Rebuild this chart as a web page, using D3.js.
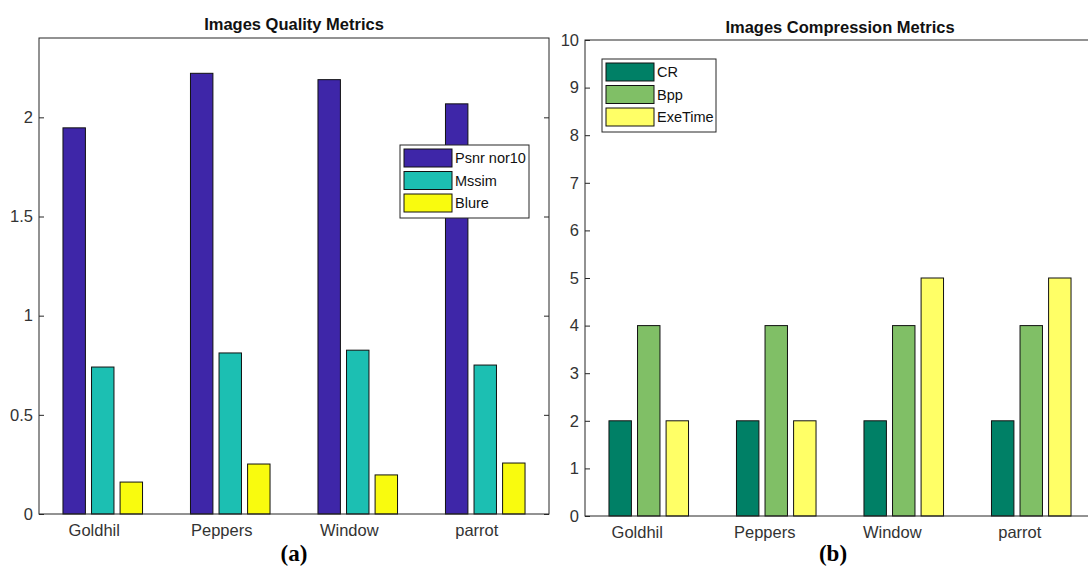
<!DOCTYPE html>
<html>
<head>
<meta charset="utf-8">
<script src="https://cdn.jsdelivr.net/npm/d3@7"></script>
<style>
  body { margin: 0; background: #fff; }
  text { font-family: "Liberation Sans", Arial, sans-serif; }
</style>
</head>
<body>
<div id="chart"></div>
<script>
// data
var images = ["Goldhil", "Peppers", "Window", "parrot"];

var qualitySeries = ["Psnr nor10", "Mssim", "Blure"];
var psnrNor10 = [1.947, 2.222, 2.19, 2.068];
var mssim = [0.741, 0.812, 0.826, 0.751];
var blure = [0.161, 0.252, 0.197, 0.257];
var qualityTicks = [0, 0.5, 1, 1.5, 2];

var compSeries = ["CR", "Bpp", "ExeTime"];
var cr = [2, 2, 2, 2];
var bpp = [4, 4, 4, 4];
var exeTime = [2, 2, 5, 5];
var compTicks = [0, 1, 2, 3, 4, 5, 6, 7, 8, 9, 10];

var svg = d3.select("#chart").append("svg")
    .attr("width", 1088)
    .attr("height", 566);

function panel(opt) {
  var g = svg.append("g");
  var x = d3.scaleLinear().domain([0.5, opt.cats.length + 0.5]).range([opt.left, opt.left + opt.width]);
  var y = d3.scaleLinear().domain(opt.ydomain).range([opt.bottom, opt.top]);
  var z = d3.scaleOrdinal().domain(opt.series).range(opt.colors);

  var step = 0.224, bw = 0.176;

  // bars
  opt.values.forEach(function(vals, j) {
    g.append("g")
        .attr("fill", z(opt.series[j]))
      .selectAll("rect")
      .data(vals)
      .enter().append("rect")
        .attr("x", function(d, i) { return x(i + 1 + (j - 1) * step - bw / 2); })
        .attr("width", x(bw) - x(0))
        .attr("y", function(d) { return y(d); })
        .attr("height", function(d) { return y(0) - y(d); })
        .attr("stroke", "#111")
        .attr("stroke-width", 1);
  });

  // axes box
  g.append("rect")
      .attr("x", opt.left).attr("y", opt.top)
      .attr("width", opt.width).attr("height", opt.bottom - opt.top)
      .attr("fill", "none").attr("stroke", "#262626").attr("stroke-width", 1);

  var yl = g.append("g")
      .attr("transform", "translate(" + opt.left + ",0)")
      .call(d3.axisLeft(y).tickValues(opt.ticks).tickSize(-5).tickPadding(6).tickFormat(d3.format("")));
  var yr = g.append("g")
      .attr("transform", "translate(" + (opt.left + opt.width) + ",0)")
      .call(d3.axisRight(y).tickValues(opt.ticks).tickSize(-5).tickFormat(""));
  [yl, yr].forEach(function(a) {
    a.select(".domain").remove();
    a.selectAll("line").attr("stroke", "#262626");
    a.selectAll("text").attr("fill", "#333").style("font-size", "16.5px")
        .style("font-family", "'Liberation Sans', Arial, sans-serif");
  });

  var xa = g.append("g")
      .attr("transform", "translate(0," + opt.bottom + ")")
      .call(d3.axisBottom(x).tickValues(d3.range(1, opt.cats.length + 1))
        .tickSize(0).tickPadding(10).tickFormat(function(d) { return opt.cats[d - 1]; }));
  xa.select(".domain").remove();
  xa.selectAll("text").attr("fill", "#333").attr("dx", opt.labelShift)
      .style("font-size", "16.5px").style("font-family", "'Liberation Sans', Arial, sans-serif");

  // title
  g.append("text")
      .attr("x", opt.left + opt.width / 2)
      .attr("y", opt.titleY)
      .attr("text-anchor", "middle")
      .attr("fill", "#111")
      .style("font-size", "16.5px")
      .style("font-weight", "bold")
      .text(opt.title);

  // sub-figure tag
  g.append("text")
      .attr("x", opt.tagX)
      .attr("y", 561)
      .attr("text-anchor", "middle")
      .attr("fill", "#000")
      .style("font-family", "'Liberation Serif', 'Times New Roman', serif")
      .style("font-size", "23px")
      .style("font-weight", "bold")
      .text(opt.tag);

  // legend
  var lg = g.append("g").attr("transform", "translate(" + opt.legend[0] + "," + opt.legend[1] + ")");
  lg.append("rect")
      .attr("width", opt.legend[2]).attr("height", 73)
      .attr("fill", "#fff").attr("stroke", "#262626").attr("stroke-width", 1);
  var item = lg.selectAll(".item")
      .data(opt.series)
      .enter().append("g")
      .attr("class", "item")
      .attr("transform", function(d, i) { return "translate(4," + (4 + i * 22.5) + ")"; });
  item.append("rect")
      .attr("width", 48).attr("height", 18)
      .attr("fill", function(d) { return z(d); })
      .attr("stroke", "#111");
  item.append("text")
      .attr("x", 51).attr("y", 9).attr("dy", "0.36em")
      .attr("fill", "#111")
      .style("font-size", "14.5px")
      .text(function(d) { return d; });
}

panel({
  cats: images, series: qualitySeries, values: [psnrNor10, mssim, blure],
  colors: ["#3e26a8", "#1cbfb2", "#f9fb0e"],
  ydomain: [0, 2.4], ticks: qualityTicks,
  left: 39, width: 510, top: 38, bottom: 514,
  title: "Images Quality Metrics", titleY: 30,
  tag: "(a)", tagX: 294, labelShift: -9,
  legend: [400, 145, 129]
});

panel({
  cats: images, series: compSeries, values: [cr, bpp, exeTime],
  colors: ["#008066", "#80bf66", "#ffff66"],
  ydomain: [0, 10], ticks: compTicks,
  left: 585, width: 510, top: 40, bottom: 516,
  title: "Images Compression Metrics", titleY: 33,
  tag: "(b)", tagX: 833, labelShift: -12,
  legend: [602, 59, 114]
});
</script>
</body>
</html>
